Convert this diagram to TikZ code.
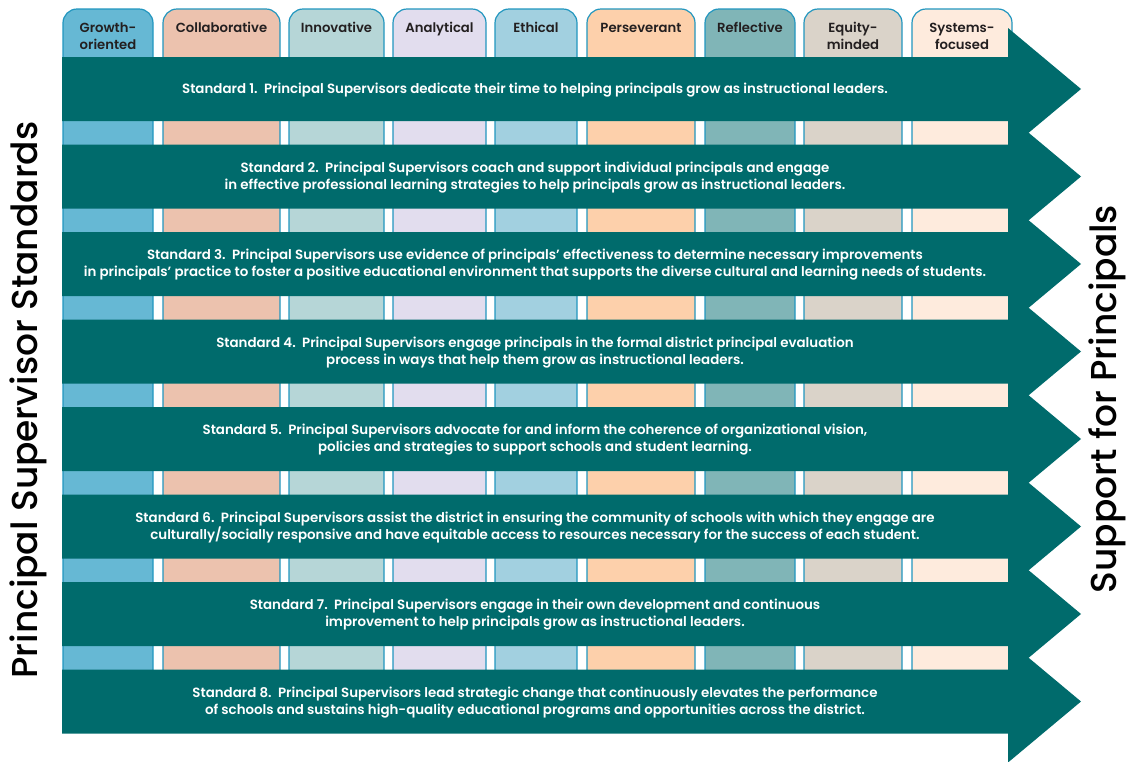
\documentclass[tikz,border=0pt]{standalone}
\usepackage{fontspec}
\setmainfont{Poppins}[UprightFont=* SemiBold]
\newfontfamily\titlefont{Poppins}[UprightFont=* Medium]

\definecolor{bandteal}{HTML}{006B6C}
\definecolor{colborder}{HTML}{2196BF}
\definecolor{headblack}{HTML}{231F20}
\definecolor{growthcol}{HTML}{66B8D4}
\definecolor{collabcol}{HTML}{ECC2AE}
\definecolor{innovcol}{HTML}{B6D6D7}
\definecolor{analytcol}{HTML}{E2DDEE}
\definecolor{ethicalcol}{HTML}{A2D0E0}
\definecolor{persevcol}{HTML}{FDD0AB}
\definecolor{reflectcol}{HTML}{80B5B7}
\definecolor{equitycol}{HTML}{DAD3C9}
\definecolor{systemscol}{HTML}{FEEBDD}

\begin{document}
\begin{tikzpicture}[x=1pt,y=-1pt,
  colbox/.style={draw=colborder,line width=1.2pt,rounded corners=14pt},
  band/.style={fill=bandteal},
  bandtext/.style={text=white,align=center,inner sep=0pt,font=\fontsize{13.4}{17}\selectfont},
  headtext/.style={anchor=base,align=center,inner sep=0pt,text=headblack,font=\fontsize{13.2}{17}\selectfont},
  sidetitle/.style={text=black,inner sep=0pt,font=\titlefont\fontsize{36}{36}\selectfont}]

  \useasboundingbox (0,0) rectangle (1132,761);

  % columns of the nine dispositions, rounded at the top
  \filldraw[colbox,fill=growthcol]  (63,9)  rectangle (153,720);
  \filldraw[colbox,fill=collabcol]  (163,9) rectangle (280,720);
  \filldraw[colbox,fill=innovcol]   (289,9) rectangle (384,720);
  \filldraw[colbox,fill=analytcol]  (393,9) rectangle (486,720);
  \filldraw[colbox,fill=ethicalcol] (495,9) rectangle (577,720);
  \filldraw[colbox,fill=persevcol]  (587,9) rectangle (695,720);
  \filldraw[colbox,fill=reflectcol] (705,9) rectangle (795,720);
  \filldraw[colbox,fill=equitycol]  (804,9) rectangle (902,720);
  \filldraw[colbox,fill=systemscol] (912,9) rectangle (1012,720);

  % column headings (base is the last line)
  \node[headtext] (growth)  at (108,49.3)   {Growth-\\oriented};
  \node[headtext] (collab)  at (221.5,32.3) {Collaborative};
  \node[headtext] (innov)   at (336.5,32.3) {Innovative};
  \node[headtext] (analyt)  at (439.5,32.3) {Analytical};
  \node[headtext] (ethical) at (536,32.3)   {Ethical};
  \node[headtext] (persev)  at (641,32.3)   {Perseverant};
  \node[headtext] (reflect) at (750,32.3)   {Reflective};
  \node[headtext] (equity)  at (853,49.3)   {Equity-\\minded};
  \node[headtext] (systems) at (962,49.3)   {Systems-\\focused};

  % the eight standards as arrows pointing right
  \fill[band] (62,57) -- (1008,57) -- (1008,28) -- (1081,89) -- (1008,150) -- (1008,121) -- (62,121) -- cycle;
  \fill[band] (62,144.5) -- (1008,144.5) -- (1008,115.5) -- (1081,176.5) -- (1008,237.5) -- (1008,208.5) -- (62,208.5) -- cycle;
  \fill[band] (62,232) -- (1008,232) -- (1008,203) -- (1081,264) -- (1008,325) -- (1008,296) -- (62,296) -- cycle;
  \fill[band] (62,319.5) -- (1008,319.5) -- (1008,290.5) -- (1081,351.5) -- (1008,412.5) -- (1008,383.5) -- (62,383.5) -- cycle;
  \fill[band] (62,407) -- (1008,407) -- (1008,378) -- (1081,439) -- (1008,500) -- (1008,471) -- (62,471) -- cycle;
  \fill[band] (62,494.5) -- (1008,494.5) -- (1008,465.5) -- (1081,526.5) -- (1008,587.5) -- (1008,558.5) -- (62,558.5) -- cycle;
  \fill[band] (62,582) -- (1008,582) -- (1008,553) -- (1081,614) -- (1008,675) -- (1008,646) -- (62,646) -- cycle;
  \fill[band] (62,669.5) -- (1008,669.5) -- (1008,640.5) -- (1081,701.5) -- (1008,762.5) -- (1008,733.5) -- (62,733.5) -- cycle;

  % texts of the standards
  \node[bandtext] (std1) at (535,90.5) {Standard 1.\ \ Principal Supervisors dedicate their time to helping principals grow as instructional leaders.};
  \node[bandtext] (std2) at (535,177.5) {Standard 2.\ \ Principal Supervisors coach and support individual principals and engage\\in effective professional learning strategies to help principals grow as instructional leaders.};
  \node[bandtext] (std3) at (535,265) {Standard 3.\ \ Principal Supervisors use evidence of principals’ effectiveness to determine necessary improvements\\in principals’ practice to foster a positive educational environment that supports the diverse cultural and learning needs of students.};
  \node[bandtext] (std4) at (535,352.5) {Standard 4.\ \ Principal Supervisors engage principals in the formal district principal evaluation\\process in ways that help them grow as instructional leaders.};
  \node[bandtext] (std5) at (535,440) {Standard 5.\ \ Principal Supervisors advocate for and inform the coherence of organizational vision,\\policies and strategies to support schools and student learning.};
  \node[bandtext] (std6) at (535,527.5) {Standard 6.\ \ Principal Supervisors assist the district in ensuring the community of schools with which they engage are\\culturally/socially responsive and have equitable access to resources necessary for the success of each student.};
  \node[bandtext] (std7) at (535,615) {Standard 7.\ \ Principal Supervisors engage in their own development and continuous\\improvement to help principals grow as instructional leaders.};
  \node[bandtext] (std8) at (535,702.5) {Standard 8.\ \ Principal Supervisors lead strategic change that continuously elevates the performance\\of schools and sustains high-quality educational programs and opportunities across the district.};

  % side titles
  \node[sidetitle,rotate=90] (standards) at (28,400) {Principal Supervisor Standards};
  \node[sidetitle,rotate=90] (support) at (1107,399) {Support for Principals};

\end{tikzpicture}
\end{document}
